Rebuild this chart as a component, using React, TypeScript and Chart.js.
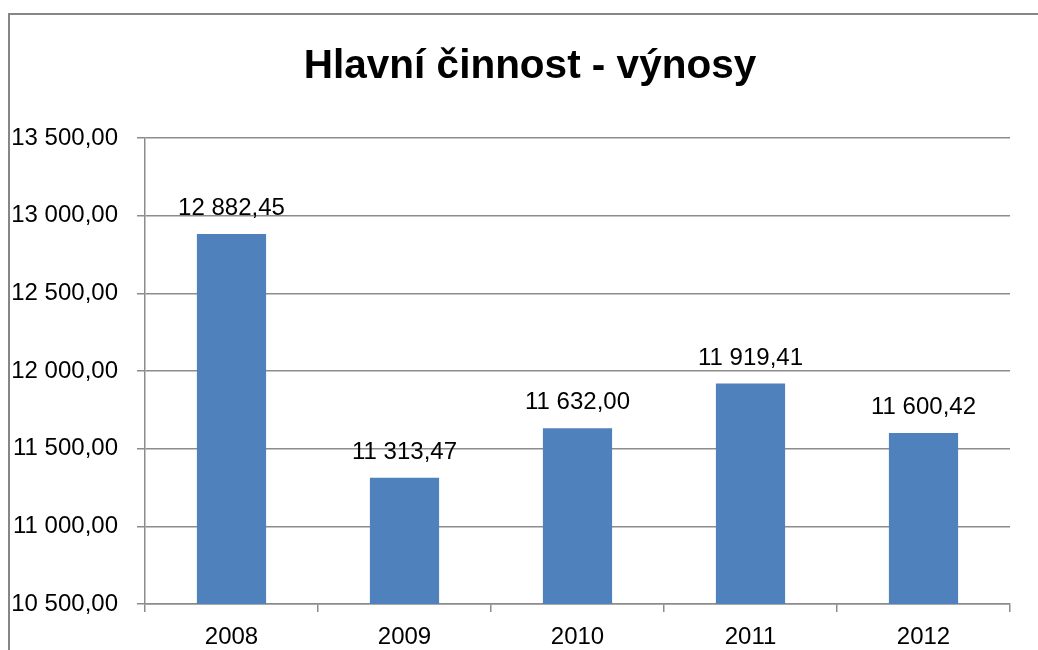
import React, { useEffect, useRef } from "react";
import { Chart, registerables } from "chart.js";

Chart.register(...registerables);

const TITLE = "Hlavní činnost - výnosy";
const CATEGORIES = ["2008", "2009", "2010", "2011", "2012"];
const VALUES = [12882.45, 11313.47, 11632.0, 11919.41, 11600.42];
const Y_MIN = 10500;
const Y_MAX = 13500;
const Y_STEP = 500;

function fmt(v: number): string {
  const fixed = v.toFixed(2);
  const [intPart, dec] = fixed.split(".");
  const withSpaces = intPart.replace(/\B(?=(\d{3})+(?!\d))/g, " ");
  return withSpaces + "," + dec;
}

const FONT = "'Liberation Sans', Arial, sans-serif";
const GRID = "#8c8c8c";
const TICK_SIZE = 24;

const framePlugin = {
  id: "frame",
  beforeDraw(chart: any) {
    const ctx = chart.ctx;
    ctx.save();
    ctx.fillStyle = "#ffffff";
    ctx.fillRect(0, 0, chart.width, chart.height);
    ctx.strokeStyle = "#868686";
    ctx.lineWidth = 2;
    ctx.beginPath();
    ctx.moveTo(9, chart.height + 5);
    ctx.lineTo(9, 14);
    ctx.lineTo(chart.width + 5, 14);
    ctx.stroke();
    ctx.fillStyle = "#000000";
    ctx.font = `bold 40.5px ${FONT}`;
    ctx.textAlign = "center";
    ctx.textBaseline = "alphabetic";
    ctx.fillText(TITLE, 530, 78);
    ctx.restore();
  },
};

const labelPlugin = {
  id: "barLabels",
  afterDatasetsDraw(chart: any) {
    const ctx = chart.ctx;
    const meta = chart.getDatasetMeta(0);
    ctx.save();
    ctx.font = `${TICK_SIZE}px ${FONT}`;
    ctx.fillStyle = "#000000";
    ctx.textAlign = "center";
    ctx.textBaseline = "alphabetic";
    meta.data.forEach((el: any, i: number) => {
      ctx.fillText(fmt(VALUES[i]), el.x, el.y - 19);
    });
    ctx.restore();
  },
};

export default function App() {
  const ref = useRef<HTMLCanvasElement>(null);

  useEffect(() => {
    if (!ref.current) return;
    const chart = new Chart(ref.current, {
      type: "bar",
      data: {
        labels: CATEGORIES,
        datasets: [
          {
            data: VALUES,
            backgroundColor: "#4F81BD",
            barPercentage: 0.4,
            categoryPercentage: 1,
          },
        ],
      },
      options: {
        animation: false,
        responsive: true,
        maintainAspectRatio: false,
        layout: { padding: { left: 0, right: 28, top: 138, bottom: 0 } },
        plugins: {
          legend: { display: false },
          tooltip: { enabled: false },
          title: { display: false },
        },
        scales: {
          x: {
            afterFit: (s: any) => {
              s.height = 46;
            },
            grid: {
              drawOnChartArea: false,
              drawTicks: true,
              tickLength: 8,
              color: GRID,
              lineWidth: 1.5,
              offset: true,
            },
            border: { color: GRID, width: 1.5 },
            ticks: {
              color: "#000000",
              font: { family: FONT, size: TICK_SIZE },
              padding: 11,
            },
          },
          y: {
            min: Y_MIN,
            max: Y_MAX,
            afterFit: (s: any) => {
              s.width = 145;
            },
            grid: {
              color: GRID,
              lineWidth: 1.5,
              tickLength: 8,
            },
            border: { color: GRID, width: 1.5 },
            ticks: {
              stepSize: Y_STEP,
              color: "#000000",
              font: { family: FONT, size: TICK_SIZE },
              padding: 19,
              callback: (v: any) => fmt(Number(v)),
            },
          },
        },
      },
      plugins: [framePlugin, labelPlugin],
    });
    return () => chart.destroy();
  }, []);

  return (
    <div
      style={{
        position: "fixed",
        left: 0,
        top: 0,
        width: 1038,
        height: 650,
        background: "#ffffff",
      }}
    >
      <canvas ref={ref} />
    </div>
  );
}
